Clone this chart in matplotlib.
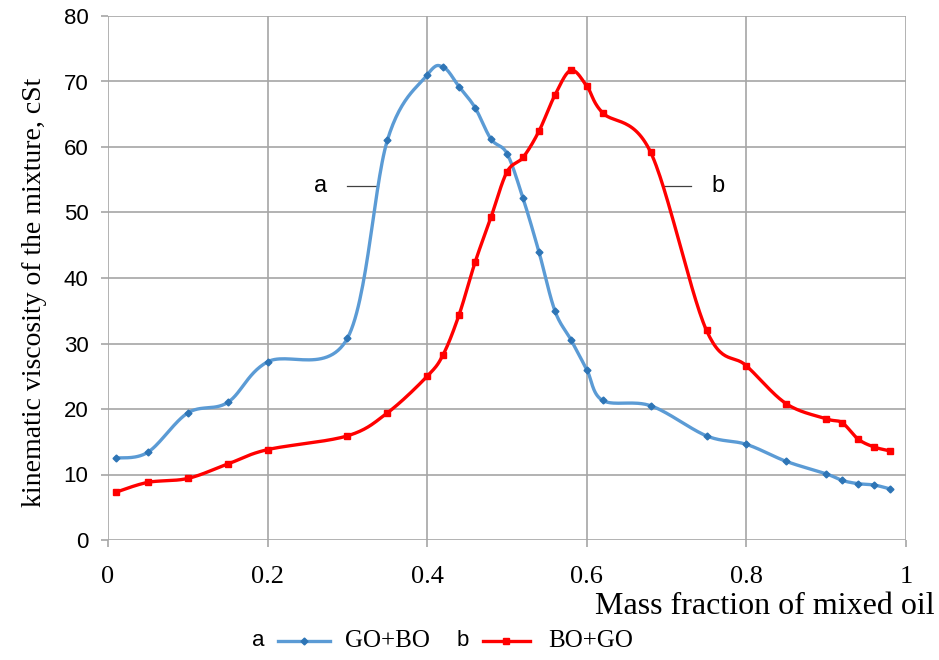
import matplotlib.pyplot as plt
from matplotlib.lines import Line2D
import numpy as np

# data
x_a = [0.01, 0.05, 0.10, 0.15, 0.20, 0.30, 0.35, 0.40, 0.42, 0.44, 0.46, 0.48, 0.50, 0.52,
       0.54, 0.56, 0.58, 0.60, 0.62, 0.68, 0.75, 0.80, 0.85, 0.90, 0.92, 0.94, 0.96, 0.98]
y_a = [12.5, 13.4, 19.4, 21.0, 27.2, 30.8, 61.0, 71.0, 72.2, 69.2, 66.0, 61.2, 59.0, 52.2,
       44.0, 35.0, 30.6, 26.0, 21.3, 20.5, 15.9, 14.6, 12.0, 10.1, 9.1, 8.6, 8.4, 7.8]
x_b = [0.01, 0.05, 0.10, 0.15, 0.20, 0.30, 0.35, 0.40, 0.42, 0.44, 0.46, 0.48, 0.50, 0.52,
       0.54, 0.56, 0.58, 0.60, 0.62, 0.68, 0.75, 0.80, 0.85, 0.90, 0.92, 0.94, 0.96, 0.98]
y_b = [7.3, 8.8, 9.4, 11.6, 13.8, 15.9, 19.4, 25.0, 28.3, 34.4, 42.4, 49.3, 56.2, 58.4,
       62.4, 67.9, 71.7, 69.3, 65.2, 59.2, 32.0, 26.6, 20.8, 18.5, 17.9, 15.4, 14.2, 13.6]

blue = '#5b9bd5'
blue_mk = '#2e75b6'
red = '#ff0000'
grid_c = '#a6a6a6'
serif = 'Liberation Serif'
sans = 'Liberation Sans'


def smooth(x, y, n=30):
    # excel-like smoothed line (catmull-rom as bezier)
    p = np.column_stack([x, y]).astype(float)
    p = np.vstack([p[0], p, p[-1]])
    out = []
    t = np.linspace(0, 1, n)[:, None]
    for i in range(1, len(p) - 2):
        p0, p3 = p[i], p[i + 1]
        c1 = p0 + (p[i + 1] - p[i - 1]) / 6
        c2 = p3 - (p[i + 2] - p[i]) / 6
        seg = (1 - t)**3 * p0 + 3 * (1 - t)**2 * t * c1 + 3 * (1 - t) * t**2 * c2 + t**3 * p3
        out.append(seg)
    s = np.vstack(out)
    return s[:, 0], s[:, 1]


fig = plt.figure(figsize=(9.39, 6.6), dpi=100)
ax = fig.add_axes([108/939, 1 - 540/660, 798/939, 524/660])

sx, sy = smooth(x_a, y_a)
ax.plot(sx, sy, color=blue, lw=2.4, zorder=3)
ax.plot(x_a, y_a, 'D', color=blue_mk, ms=3.5, zorder=4)
sx, sy = smooth(x_b, y_b)
ax.plot(sx, sy, color=red, lw=2.4, zorder=3)
ax.plot(x_b, y_b, 's', color=red, ms=5, zorder=4)

ax.set_xlim(0, 1)
ax.set_ylim(0, 80)
ax.set_xticks(np.arange(0, 1.01, 0.2))
ax.set_xticklabels(['0', '0.2', '0.4', '0.6', '0.8', '1'])
ax.set_yticks(np.arange(0, 81, 10))
ax.grid(True, color=grid_c, lw=1.2)
for s in ax.spines.values():
    s.set_visible(False)
ax.tick_params(length=5, color=grid_c, width=1.2)
ax.tick_params(axis='y', labelsize=16, pad=9)
ax.tick_params(axis='x', labelsize=19, pad=14)
for lb in ax.get_xticklabels():
    lb.set_family(serif)
for lb in ax.get_yticklabels():
    lb.set_family(sans)

ax.set_ylabel('kinematic viscosity of the mixture, cSt', family=serif, fontsize=20)
ax.yaxis.set_label_coords(-0.076, 0.473)
fig.text(935/939, 1 - 606/660, 'Mass fraction of mixed oil', family=serif,
         fontsize=23, ha='right', va='center')

# curve labels
ax.plot([0.30, 0.338], [54, 54], color='#404040', lw=0.9)
ax.text(0.266, 54, 'a', fontsize=17, family=sans, ha='center', va='center')
ax.plot([0.695, 0.731], [54, 54], color='#404040', lw=0.9)
ax.text(0.764, 54, 'b', fontsize=17, family=sans, ha='center', va='center')

# legend
ly = 1 - 641/660
fig.text(258/939, ly, 'a', fontsize=16, family=sans, ha='center', va='center')
fig.add_artist(Line2D([278/939, 304/939, 330/939], [ly, ly, ly], color=blue, lw=2.4,
                      marker='D', ms=3.5, mfc=blue_mk, mec=blue_mk, markevery=[1]))
fig.text(345/939, ly, 'GO+BO', fontsize=18, family=serif, ha='left', va='center')
fig.text(463/939, ly, 'b', fontsize=16, family=sans, ha='center', va='center')
fig.add_artist(Line2D([483/939, 506/939, 530/939], [ly, ly, ly], color=red, lw=2.4,
                      marker='s', ms=5, markevery=[1]))
fig.text(548/939, ly, 'BO+GO', fontsize=18, family=serif, ha='left', va='center')

fig.savefig('out.png', dpi=100)
